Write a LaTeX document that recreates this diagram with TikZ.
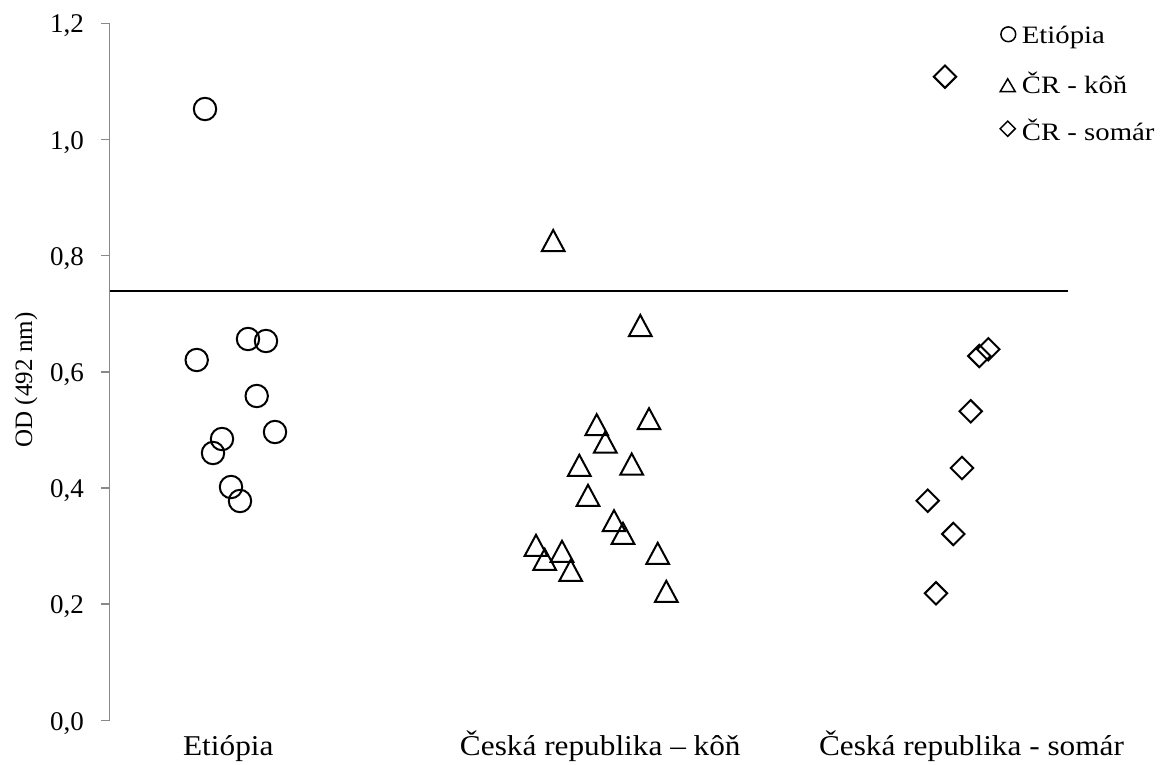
\documentclass[tikz,border=0pt]{standalone}
\usepackage{fontspec}
\setmainfont{Liberation Serif}
\newfontfamily\catfont[FakeStretch=1.09]{Liberation Serif}
\newfontfamily\legfont[FakeStretch=1.15]{Liberation Serif}
\definecolor{axisgray}{HTML}{898989}
\tikzset{
  markline/.style={draw=black,line width=2pt},
  legline/.style={draw=black,line width=1.5pt},
  circmark/.pic={\draw[markline] (0,0) circle[radius=11.2];},
  trimark/.pic={\draw[markline] (0,-10.5) -- (11.3,10.5) -- (-11.3,10.5) -- cycle;},
  diamark/.pic={\draw[markline] (0,-11.2) -- (11.2,0) -- (0,11.2) -- (-11.2,0) -- cycle;},
  legcirc/.pic={\draw[legline] (0,0) circle[radius=7.4];},
  legtri/.pic={\draw[legline] (0,-6.2) -- (7.5,6.6) -- (-7.5,6.6) -- cycle;},
  legdia/.pic={\draw[legline] (0,-7.6) -- (7.6,0) -- (0,7.6) -- (-7.6,0) -- cycle;},
  ticklabel/.style={anchor=base east,inner sep=0pt,font=\fontsize{27}{32}\selectfont},
  catlabel/.style={anchor=base,inner sep=0pt,font=\catfont\fontsize{28.7}{34}\selectfont},
  leglabel/.style={anchor=base west,inner sep=0pt,font=\legfont\fontsize{25}{30}\selectfont},
}
\begin{document}
\begin{tikzpicture}[x=1pt,y=-1pt]
\useasboundingbox (0,0) rectangle (1161,765);
% axis
\draw[axisgray,line width=1.5pt] (109.5,23.3) -- (109.5,720.3);
\foreach \k/\lab in {0/{0,0},1/{0,2},2/{0,4},3/{0,6},4/{0,8},5/{1,0},6/{1,2}}{
  \draw[axisgray,line width=1.5pt] (101,720.3-\k*116.17) -- (109.5,720.3-\k*116.17);
  \node[ticklabel] (tick\k) at (84,720.3-\k*116.17+9.7) {\lab};
}
\node[rotate=90,inner sep=0pt,font=\fontsize{25}{30}\selectfont] (ylab) at (26,380) {OD (492 nm)};
% threshold line
\coordinate (thrA) at (109.5,290.7);
\coordinate (thrB) at (1068,290.7);
\draw[black,line width=2pt] (thrA) -- (thrB);
% categories
\node[catlabel] (cat1) at (228.3,755.5) {Etiópia};
\node[catlabel] (cat2) at (600.3,755.5) {Česká republika – kôň};
\node[catlabel] (cat3) at (971.5,755.5) {Česká republika - somár};
% Etiopia circles
\foreach \p in {(205,109),(196.7,360),(248,339),(266,341),(256.7,396),(275,432),(222,439),(213,453),(231,487),(240,501)}
  \pic at \p {circmark};
% CR horse triangles
\foreach \p in {(553.2,240.5),(640.3,325.5),(649,418.7),(596.7,424.7),(605.3,442),(579.3,465.3),(631.7,464),(588,495.3),(614,520.7),(623,533.3),(536,545.3),(544.7,559.3),(562,551.3),(570.7,570.3),(657.7,553.3),(666.3,591.3)}
  \pic at \p {trimark};
% CR donkey diamonds
\foreach \p in {(945,76.7),(979.3,356),(988.3,349.3),(970.7,411.3),(962,468),(927.7,500.7),(953.3,534),(936,593.3)}
  \pic at \p {diamark};
% legend
\pic at (1008.3,34.3) {legcirc};
\pic at (1007.7,85) {legtri};
\pic at (1007.7,128.7) {legdia};
\node[leglabel] (leg1) at (1021.7,43.3) {Etiópia};
\node[leglabel] (leg2) at (1021.7,93.3) {ČR - kôň};
\node[leglabel] (leg3) at (1021.7,140) {ČR - somár};
\end{tikzpicture}
\end{document}
